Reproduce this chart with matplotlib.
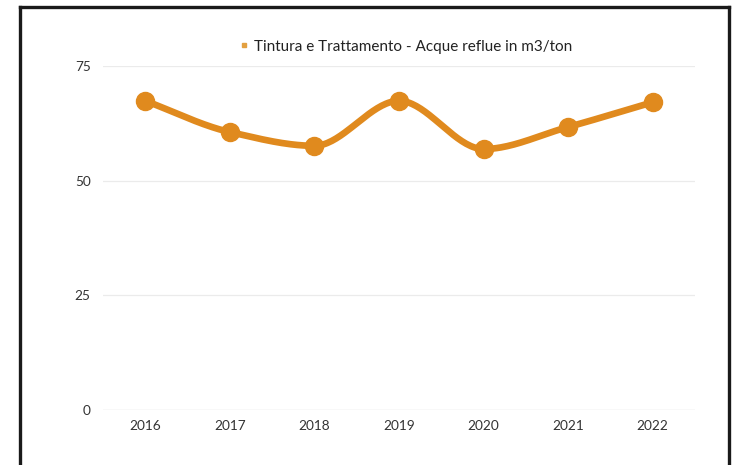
import numpy as np
import matplotlib
matplotlib.use("Agg")
import matplotlib.pyplot as plt
from matplotlib.lines import Line2D

years = ["2016", "2017", "2018", "2019", "2020", "2021", "2022"]
wastewater = [67.4, 60.6, 57.6, 67.4, 56.9, 61.7, 67.1]
series_label = "Tintura e Trattamento - Acque reflue in m3/ton"
y_ticks = [0, 25, 50, 75]

ORANGE = "#E08A1E"
plt.rcParams["font.family"] = ["Lato", "DejaVu Sans"]


def monotone_curve(y, samples=40):
    """Monotone cubic (Fritsch-Carlson) path through evenly spaced points."""
    y = np.asarray(y, dtype=float)
    n = len(y)
    d = np.diff(y)
    m = np.zeros(n)
    m[0], m[-1] = d[0], d[-1]
    for i in range(1, n - 1):
        if d[i - 1] * d[i] <= 0:
            m[i] = 0.0
        else:
            m[i] = 2.0 / (1.0 / d[i - 1] + 1.0 / d[i])
    xs, ys = [], []
    t = np.linspace(0, 1, samples)
    for i in range(n - 1):
        h00 = 2 * t**3 - 3 * t**2 + 1
        h10 = t**3 - 2 * t**2 + t
        h01 = -2 * t**3 + 3 * t**2
        h11 = t**3 - t**2
        seg = h00 * y[i] + h10 * m[i] + h01 * y[i + 1] + h11 * m[i + 1]
        xs.append(i + t)
        ys.append(seg)
    return np.concatenate(xs), np.concatenate(ys)


fig = plt.figure(figsize=(7.38, 4.65), dpi=100)
ax = fig.add_axes([103 / 738, 1 - 410 / 465, (695 - 103) / 738, (410 - 66) / 465])

x = np.arange(len(years))
cx, cy = monotone_curve(wastewater)
ax.plot(cx, cy, color=ORANGE, lw=4.8, solid_capstyle="round", zorder=3)
ax.plot(x, wastewater, "o", color=ORANGE, markersize=13, zorder=4)

ax.set_xlim(-0.5, len(years) - 0.5)
ax.set_ylim(0, 75)
ax.set_xticks(x)
ax.set_xticklabels(years)
ax.set_yticks(y_ticks)
for v in y_ticks:
    ax.axhline(v, color="#cfcfcf" if v == 0 else "#ebebeb", lw=0.9, zorder=1)

for s in ax.spines.values():
    s.set_visible(False)
ax.tick_params(length=0, colors="#333333", labelsize=9.8)
ax.tick_params(axis="y", pad=9)
ax.tick_params(axis="x", pad=7)

handle = Line2D([], [], marker="s", color="#E3A040", linestyle="none", markersize=3)
ax.legend([handle], [series_label], loc="lower center", bbox_to_anchor=(0.51, 1.0),
          frameon=False, fontsize=11, handletextpad=0.25, handlelength=0.8,
          borderaxespad=0.4, labelcolor="#222222")

# dark frame around the panel (open at the bottom)
frame_kw = dict(color="#1a1a1a", lw=2.4, transform=fig.transFigure, clip_on=False)
fig.add_artist(Line2D([20 / 738, 20 / 738], [0, 1 - 7 / 465], **frame_kw))
fig.add_artist(Line2D([20 / 738, 729 / 738], [1 - 7 / 465, 1 - 7 / 465], **frame_kw))
fig.add_artist(Line2D([729 / 738, 729 / 738], [0, 1 - 7 / 465], **frame_kw))

fig.savefig("out.png", dpi=100, facecolor="white")
